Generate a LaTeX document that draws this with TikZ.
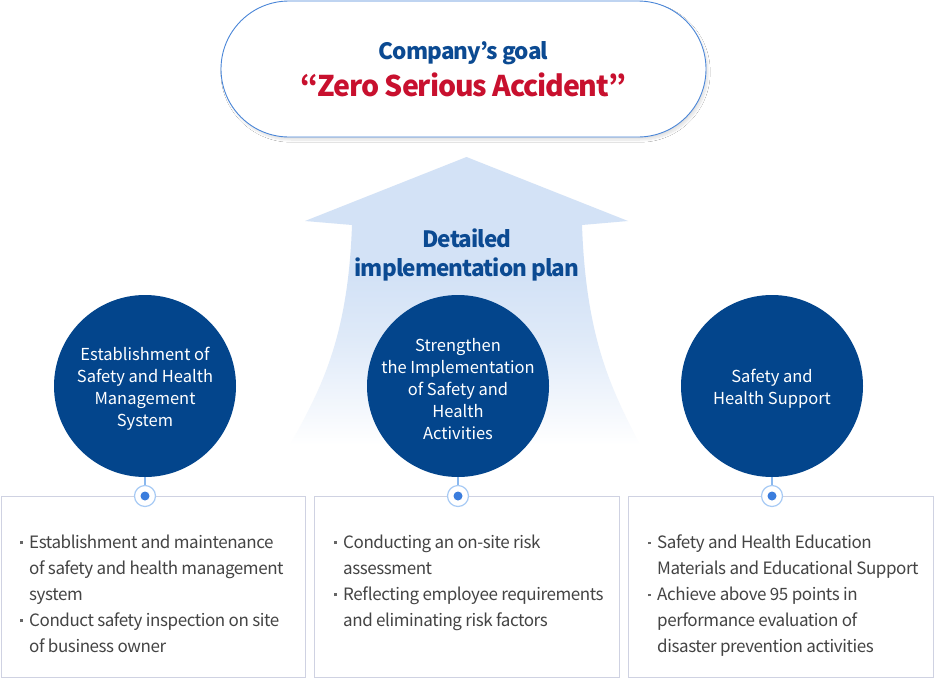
\documentclass[tikz,border=0pt]{standalone}
\usepackage{fontspec}
\setmainfont{Noto Sans CJK KR}
\usetikzlibrary{shadows.blur}
\definecolor{navy}{HTML}{03458C}
\definecolor{titleblue}{HTML}{0B4A92}
\definecolor{accred}{HTML}{C8102E}
\definecolor{pillline}{HTML}{4A86D8}
\definecolor{arrowblue}{HTML}{D3E2F6}
\definecolor{boxline}{HTML}{CFD2E2}
\definecolor{bodytext}{HTML}{444444}
\definecolor{ringline}{HTML}{A8CBF5}
\definecolor{dotblue}{HTML}{3B7DDD}
\definecolor{connline}{HTML}{8AB8EE}
\definecolor{bulletgray}{HTML}{666666}
\pgfdeclareverticalshading{arrowfade}{100bp}{color(0bp)=(white); color(25bp)=(white); color(31bp)=(arrowblue!25!white); color(44bp)=(arrowblue!75!white); color(54bp)=(arrowblue); color(100bp)=(arrowblue)}
\newcommand{\bul}{\llap{\textcolor{bulletgray}{\rule[4.5pt]{2.8pt}{2.8pt}}\hspace{6.2pt}}}
\tikzset{
  pill/.style={draw=pillline, line width=0.9pt, fill=white, rounded corners=68pt,
    minimum width=485pt, minimum height=136pt, inner sep=0pt, align=center,
    blur shadow={shadow xshift=2pt, shadow yshift=-3pt, shadow opacity=12, shadow blur steps=10}},
  topic/.style={circle, fill=navy, minimum size=182pt, inner sep=0pt},
  topictxt/.style={text=white, align=center, inner sep=0pt, font=\fontsize{16.5}{22}\selectfont},
  infobox/.style={draw=boxline, line width=1pt, fill=white, minimum height=181pt, inner sep=0pt},
  ring/.style={circle, draw=ringline, line width=1.2pt, fill=white, minimum size=21pt, inner sep=0pt},
  dot/.style={circle, fill=dotblue, minimum size=9pt, inner sep=0pt},
  conn/.style={draw=connline, line width=1.5pt},
  bodytxt/.style={anchor=north west, inner sep=0pt, align=left, text=bodytext,
    font=\fontsize{17}{26}\selectfont\addfontfeatures{LetterSpace=-2.5}},
  plan/.style={text=titleblue, align=center, inner sep=0pt,
    font=\bfseries\fontsize{22.5}{29}\selectfont\addfontfeatures{LetterSpace=-4}}
}
\begin{document}
\begin{tikzpicture}[x=1pt,y=-1pt]
\useasboundingbox (0,0) rectangle (934,688);
\fill[white] (0,0) rectangle (934,688);
% big arrow
\shade[shading=arrowfade] (466.5,157) -- (628,221) -- (582,225)
  .. controls (586,340) and (612,390) .. (640,445)
  -- (290,445)
  .. controls (320,390) and (348,340) .. (352,225)
  -- (305,221) -- cycle;
% goal pill
\node[pill] (goal) at (463.5,69) {%
  {\bfseries\fontsize{22.5}{28}\selectfont\addfontfeatures{LetterSpace=-4}\color{titleblue}Company’s goal}\\[7pt]
  {\bfseries\fontsize{28.5}{34}\selectfont\addfontfeatures{LetterSpace=-4}\color{accred}“Zero Serious Accident”}};
\node[plan] (plan) at (467,255) {Detailed\\implementation plan};
% topics
\node[topic] (c1) at (145,386) {};
\node[topic] (c2) at (458,386) {};
\node[topic] (c3) at (772,386) {};
\node[topictxt] (l1) at ([yshift=-3pt]c1.center) {Establishment of\\Safety and Health\\Management\\System};
\node[topictxt] (l2) at ([yshift=-3pt]c2.center) {Strengthen\\the Implementation\\of Safety and\\Health\\Activities};
\node[topictxt] (l3) at ([yshift=-3pt]c3.center) {Safety and\\Health Support};
% boxes
\node[infobox, minimum width=304pt] (b1) at (153,586.5) {};
\node[infobox, minimum width=305pt] (b2) at (466.5,586.5) {};
\node[infobox, minimum width=305pt] (b3) at (780.5,586.5) {};
% connectors and rings
\node[ring] (r1) at (145,496) {};
\node[ring] (r2) at (458,496) {};
\node[ring] (r3) at (772,496) {};
\draw[conn] (c1.south) -- (r1.north);
\draw[conn] (c2.south) -- (r2.north);
\draw[conn] (c3.south) -- (r3.north);
\node[dot] (d1) at (r1.center) {};
\node[dot] (d2) at (r2.center) {};
\node[dot] (d3) at (r3.center) {};
% texts
\node[bodytxt] (t1) at (29,535) {\bul Establishment and maintenance\\of safety and health management\\system\\\bul Conduct safety inspection on site\\of business owner};
\node[bodytxt] (t2) at (343,535) {\bul Conducting an on-site risk\\assessment\\\bul Reflecting employee requirements\\and eliminating risk factors};
\node[bodytxt] (t3) at (657,535) {\bul Safety and Health Education\\Materials and Educational Support\\\bul Achieve above 95 points in\\performance evaluation of\\disaster prevention activities};
\end{tikzpicture}
\end{document}
